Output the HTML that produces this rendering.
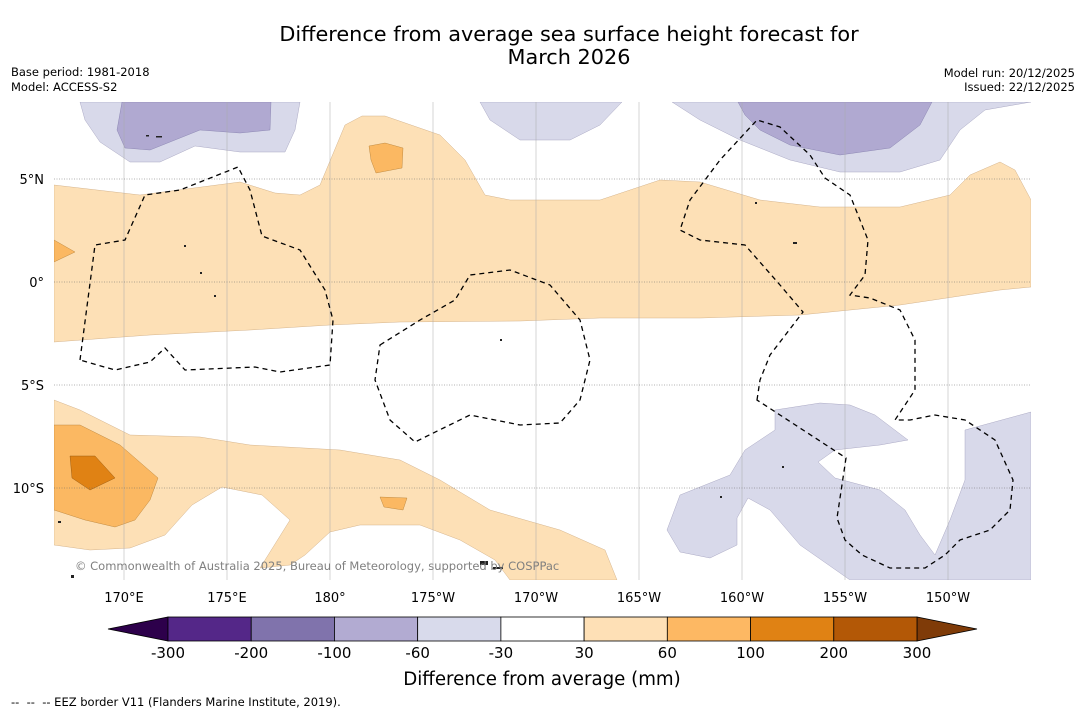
<!DOCTYPE html>
<html><head><meta charset="utf-8">
<style>
body{margin:0;background:#fff;width:1085px;height:713px;overflow:hidden;font-family:"DejaVu Sans","Liberation Sans",sans-serif;}
svg{display:block}
</style></head>
<body>
<svg id="chart" width="1085" height="713" viewBox="0 0 1085 713" xmlns="http://www.w3.org/2000/svg">
<rect width="1085" height="713" fill="#fff"/>
<text x="569" y="41" font-size="20.8" text-anchor="middle" fill="#000">Difference from average sea surface height forecast for</text>
<text x="569" y="64" font-size="20.8" text-anchor="middle" fill="#000">March 2026</text>
<text x="11" y="76" font-size="11.5">Base period: 1981-2018</text>
<text x="11" y="91" font-size="11.5">Model: ACCESS-S2</text>
<text x="1075" y="77" font-size="11.5" text-anchor="end">Model run: 20/12/2025</text>
<text x="1075" y="91" font-size="11.5" text-anchor="end">Issued: 22/12/2025</text>
<defs><clipPath id="mapclip"><rect x="54" y="102" width="977" height="478"/></clipPath></defs>
<g id="map" clip-path="url(#mapclip)">
<path fill="#fde0b6" stroke="#c9a57a" stroke-width="0.4" d="M54,185 L140,195 L240,182 L275,193 L300,195 L320,185 L345,125 L362,116 L385,116 L440,135 L465,160 L485,195 L510,200 L600,200 L660,180 L700,182 L760,200 L820,207 L900,207 L950,195 L970,175 L1000,162 L1015,170 L1031,200 L1031,287 L1000,290 L900,305 L800,315 L700,318 L600,318 L520,321 L400,322 L330,325 L250,330 L150,335 L54,342 Z"/>
<path fill="#fbb862" stroke="#b07a30" stroke-width="0.4" d="M369,146 L385,143 L403,148 L402,168 L376,173 L371,160 Z"/>
<path fill="#fbb862" stroke="#b07a30" stroke-width="0.4" d="M54,240 L75,252 L54,262 Z"/>
<path fill="#fde0b6" stroke="#c9a57a" stroke-width="0.4" d="M54,400 L80,410 L130,435 L200,437 L250,445 L340,450 L400,460 L440,480 L490,510 L560,530 L605,550 L617,580 L510,580 L495,560 L460,540 L420,525 L360,525 L330,532 L305,555 L290,565 L260,568 L290,520 L262,495 L222,487 L192,505 L165,535 L130,548 L90,550 L54,545 Z"/>
<path fill="#fbb862" stroke="#b07a30" stroke-width="0.4" d="M54,425 L80,425 L120,445 L158,478 L150,500 L135,520 L115,527 L85,520 L54,510 Z"/>
<path fill="#e08214" stroke="#8a4f0a" stroke-width="0.4" d="M70,456 L95,456 L115,478 L90,490 L72,478 Z"/>
<path fill="#fbb862" stroke="#b07a30" stroke-width="0.4" d="M380,497 L407,498 L403,510 L384,507 Z"/>
<path fill="#d8d9ea" stroke="#9a98b8" stroke-width="0.4" d="M80,102 L300,102 L295,130 L285,152 L240,152 L195,146 L160,162 L130,162 L100,142 L85,120 Z"/>
<path fill="#b0a9d1" stroke="#7f78a8" stroke-width="0.4" d="M122,102 L271,102 L270,130 L240,133 L200,130 L175,140 L150,150 L125,148 L117,130 Z"/>
<path fill="#d8d9ea" stroke="#9a98b8" stroke-width="0.4" d="M480,102 L622,102 L600,125 L570,140 L520,140 L490,120 Z"/>
<path fill="#d8d9ea" stroke="#9a98b8" stroke-width="0.4" d="M672,102 L1031,102 L985,110 L960,130 L940,160 L900,172 L840,172 L790,160 L740,140 L700,120 Z"/>
<path fill="#b0a9d1" stroke="#7f78a8" stroke-width="0.4" d="M738,102 L932,102 L920,125 L890,148 L840,155 L790,145 L760,130 L745,115 Z"/>
<path fill="#d8d9ea" stroke="#9a98b8" stroke-width="0.4" d="M667,530 L680,495 L730,475 L745,450 L775,430 L775,410 L820,403 L850,405 L875,415 L908,440 L880,445 L835,450 L818,462 L835,478 L880,490 L905,510 L920,535 L935,555 L950,520 L965,480 L965,430 L1031,412 L1031,580 L850,580 L800,545 L770,510 L748,498 L737,518 L737,545 L710,558 L680,552 Z"/>
<g id="grid"></g>
<g fill="none" stroke="#000" stroke-width="1.3" stroke-dasharray="5,4">
<path d="M80,360 L95,245 L125,240 L145,195 L180,190 L238,167 L250,190 L262,236 L300,250 L325,290 L333,320 L330,365 L280,372 L255,367 L185,370 L165,348 L150,362 L115,370 Z"/>
<path d="M380,345 L420,320 L455,300 L470,275 L510,270 L550,285 L580,320 L590,360 L580,400 L560,423 L520,425 L470,415 L415,442 L390,420 L375,380 Z"/>
<path d="M757,400 L760,380 L770,355 L803,312 L780,285 L745,245 L700,240 L680,230 L690,200 L720,160 L757,120 L780,127 L810,155 L825,178 L850,195 L868,240 L865,275 L850,295 L870,298 L900,310 L915,340 L915,390 L895,420 L910,420 L935,415 L965,420 L995,440 L1013,480 L1010,510 L990,530 L960,540 L945,555 L925,568 L890,568 L862,555 L845,540 L837,518 L846,458 Z"/>
</g>
<g fill="#222">
<rect x="146" y="135" width="3" height="1.5"/><rect x="156" y="136" width="6" height="1.5"/><rect x="184" y="245" width="2" height="2"/><rect x="200" y="272" width="2" height="2"/><rect x="214" y="295" width="2" height="2"/><rect x="793" y="242" width="4" height="2"/><rect x="480" y="561" width="8" height="4"/><rect x="493" y="567" width="10" height="2"/><rect x="71" y="575" width="3" height="3"/><rect x="58" y="521" width="3" height="2"/><rect x="755" y="202" width="2" height="2"/><rect x="782" y="466" width="2" height="2"/><rect x="500" y="339" width="2" height="2"/><rect x="720" y="496" width="2" height="2"/>
</g>
<text x="75" y="570" font-size="11.5" fill="#808080">© Commonwealth of Australia 2025, Bureau of Meteorology, supported by COSPPac</text>
</g>
<g id="lonlabels"></g>
<g id="latlabels"></g>
<g id="colorbar"></g>
<text x="542" y="685" font-size="18.2" text-anchor="middle">Difference from average (mm)</text>
<text x="11" y="706" font-size="11.5" xml:space="preserve">--  --  -- EEZ border V11 (Flanders Marine Institute, 2019).</text>
</svg>
<script>
const lonTicks=[170,175,180,-175,-170,-165,-160,-155,-150];
const lonTickLabels=["170°E","175°E","180°","175°W","170°W","165°W","160°W","155°W","150°W"];
const latTicks=[5,0,-5,-10];
const latTickLabels=["5°N","0°","5°S","10°S"];
const cbLevels=["-300","-200","-100","-60","-30","30","60","100","200","300"];
const cbColors=["#542788","#8073ac","#b2abd2","#d8daeb","#ffffff","#fee0b6","#fdb863","#e08214","#b35806"];
const cbUnder="#2d004b", cbOver="#7f3b08";
const NS="http://www.w3.org/2000/svg";
function xLon(l){let e=l<0?l+360:l;return 124+(e-170)*20.6;}
function yLat(l){return 282-l*20.6;}
function mk(t,a,p){const e=document.createElementNS(NS,t);for(const k in a)e.setAttribute(k,a[k]);p.appendChild(e);return e;}
const grid=document.getElementById('grid');
lonTicks.forEach((l,i)=>{const x=xLon(l);
 const g=mk('line',{x1:x,x2:x,y1:102,y2:580,stroke:'#aaa','stroke-width':0.5},grid);
 
 
 const t=mk('text',{x:x,y:602,'font-size':13,'text-anchor':'middle'},document.getElementById('lonlabels'));
 t.textContent=lonTickLabels[i];
 
 
});
latTicks.forEach((l,i)=>{const y=yLat(l);
 const g=mk('line',{x1:54,x2:1031,y1:y,y2:y,stroke:'#666','stroke-width':0.5,'stroke-dasharray':'1,1.5'},grid);
 
 
 const t=mk('text',{x:44,y:y+5,'font-size':13,'text-anchor':'end'},document.getElementById('latlabels'));
 t.textContent=latTickLabels[i];
 
 
});
const cb=document.getElementById('colorbar');
const cx0=168,cx1=917,cy=617,ch=24,w=(cx1-cx0)/cbColors.length;
const under=mk('polygon',{points:`108,${cy+ch/2} ${cx0},${cy} ${cx0},${cy+ch}`,fill:cbUnder,stroke:'#000','stroke-width':0.8},cb);


const over=mk('polygon',{points:`977,${cy+ch/2} ${cx1},${cy} ${cx1},${cy+ch}`,fill:cbOver,stroke:'#000','stroke-width':0.8},cb);


cbColors.forEach((c,i)=>{
 const r=mk('rect',{x:cx0+i*w,y:cy,width:w,height:ch,fill:c,stroke:'#000','stroke-width':0.8},cb);
 
 
});
cbLevels.forEach((v,i)=>{
 const t=mk('text',{x:cx0+i*w,y:658,'font-size':15,'text-anchor':'middle'},cb);
 t.textContent=v;
 
 
});
</script>
</body></html>
